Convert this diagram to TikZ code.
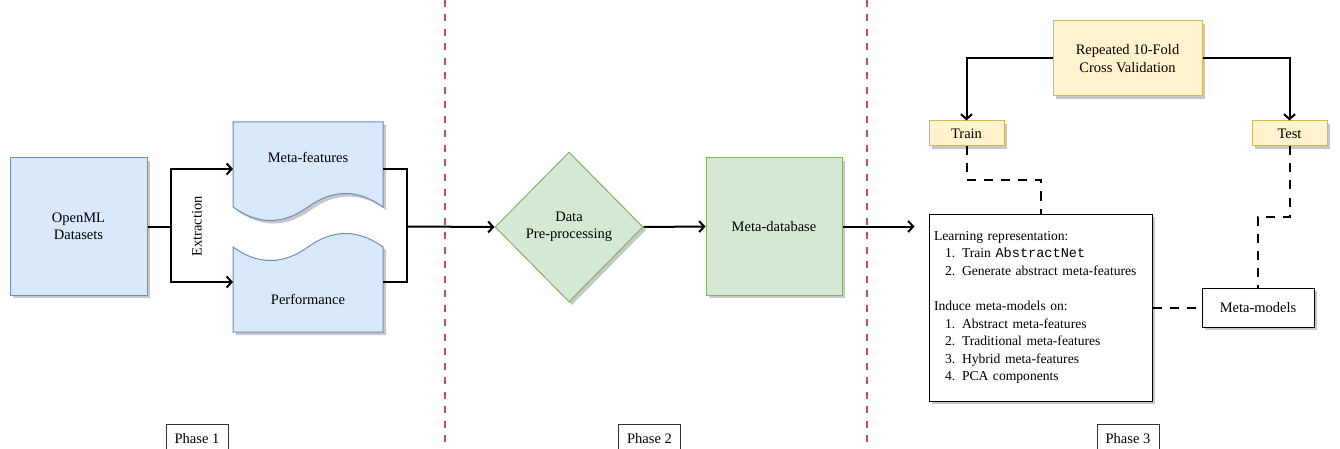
\documentclass[tikz,border=0pt]{standalone}
\usepackage{fontspec}
\setmainfont{Liberation Serif}
\setmonofont{Liberation Mono}
\usepackage{tikz}
\usetikzlibrary{arrows.meta, shapes, shadows, calc}

\definecolor{blueFill}{HTML}{DAE8FC}
\definecolor{blueLine}{HTML}{6C8EBF}
\definecolor{greenFill}{HTML}{D5E8D4}
\definecolor{greenLine}{HTML}{82B366}
\definecolor{yellowFill}{HTML}{FFF2CC}
\definecolor{yellowLine}{HTML}{D6B656}
\definecolor{sepLine}{HTML}{B85450}

\tikzset{
    shade/.style={drop shadow={shadow xshift=3pt, shadow yshift=-3pt, fill=black!22, opacity=1}},
    flow/.style={draw=black, line width=2pt},
    tip/.style={-{Straight Barb[length=5pt, width=11pt]}},
    dashflow/.style={draw=black, line width=2pt, dash pattern=on 9pt off 8pt},
    separator/.style={draw=sepLine, line width=2pt, dash pattern=on 7pt off 7.5pt}
}

\begin{document}
\begin{tikzpicture}[x=1pt, y=-1pt, font=\fontsize{14.5}{17.5}\selectfont]
            \useasboundingbox (0,0) rectangle (1340,449);

            % phases
            \draw[separator] (445,0) -- (445,449);
            \draw[separator] (867,0) -- (867,449);
            \begin{scope}[every node/.style={draw=black!80, fill=white, line width=1pt, minimum width=62, minimum height=30, inner sep=0}]
                \node (phaseA) at (197,439) {Phase 1};
                \node (phaseB) at (649.5,439) {Phase 2};
                \node (phaseC) at (1128,439) {Phase 3};
            \end{scope}

            % phase 1: documents
            \draw[shade, draw=blueLine, fill=blueFill, line width=1pt] (233,122) -- (383,122) -- (383,207)
                .. controls (358,189) and (333,189) .. (308,207)
                .. controls (283,225) and (258,225) .. (233,207) -- cycle;
            \draw[shade, draw=blueLine, fill=blueFill, line width=1pt] (233,332) -- (383,332) -- (383,247)
                .. controls (358,229) and (333,229) .. (308,247)
                .. controls (283,265) and (258,265) .. (233,247) -- cycle;
            \coordinate (metaIn) at (233,169);
            \coordinate (metaOut) at (383,169);
            \coordinate (perfIn) at (233,282);
            \coordinate (perfOut) at (383,282);

            \begin{scope}[every node/.style={line width=1pt, inner sep=0, align=center}]
                \node[shade, draw=blueLine, fill=blueFill, minimum width=137, minimum height=137] (openml) at (78.5,226.5) {OpenML\\Datasets};
                \node (meta) at (308,157) {Meta-features};
                \node (perf) at (308,299) {Performance};
                \node[rotate=90] (extract) at (197,226.5) {Extraction};
                \node[shade, shape=diamond, draw=greenLine, fill=greenFill, minimum width=148, minimum height=150] (prep) at (569,227) {Data\\Pre-processing};
                \node[shade, draw=greenLine, fill=greenFill, minimum width=136, minimum height=137] (metadb) at (774,226.5) {Meta-database};
                \node[shade, draw=yellowLine, fill=yellowFill, minimum width=149, minimum height=75] (cv) at (1127.5,58.5) {Repeated 10-Fold\\Cross Validation};
                \node[shade, draw=yellowLine, fill=yellowFill, minimum width=75, minimum height=25] (train) at (966.5,133.5) {Train};
                \node[shade, draw=yellowLine, fill=yellowFill, minimum width=75, minimum height=25] (test) at (1289.5,133.5) {Test};
                \node[shade, draw=black, fill=white, minimum width=112, minimum height=39] (models) at (1258,307.5) {Meta-models};
                \node[shade, draw=black, fill=white, text width=213, inner xsep=5, minimum height=187, align=left,
                      font=\fontsize{13.6}{17.6}\selectfont] (learn) at (1040.5,307.5) {Learning representation:\\
                    \hspace*{11pt}1. Train \texttt{AbstractNet}\\
                    \hspace*{11pt}2. Generate abstract meta-features\\[17.6pt]
                    Induce meta-models on:\\
                    \hspace*{11pt}1. Abstract meta-features\\
                    \hspace*{11pt}2. Traditional meta-features\\
                    \hspace*{11pt}3. Hybrid meta-features\\
                    \hspace*{11pt}4. PCA components};
            \end{scope}

            \coordinate (split) at (171,226.5);
            \coordinate (merge) at (407,226.5);

            % connectors
            \draw[flow] (openml.east) -- (split);
            \draw[flow, tip] (split) |- (metaIn);
            \draw[flow, tip] (split) |- (perfIn);
            \draw[flow] (metaOut) -| (merge) |- (perfOut);
            \draw[flow, tip] (merge) -- (prep.west);
            \draw[flow, tip] (prep.east) -- (metadb.west);
            \draw[flow, tip, shorten >=14pt] (metadb.east) -- (metadb.east -| learn.west);
            \draw[flow, tip] (cv.west) -| (train.north);
            \draw[flow, tip] (cv.east) -| (test.north);
            \draw[dashflow] (train.south) |- ($(train.south)!.5!(learn.north)$) -| (learn.north);
            \draw[dashflow] (test.south) |- ($(test.south)!.5!(models.north)$) -| (models.north);
            \draw[dashflow] (learn.east) -- (models.west);
\end{tikzpicture}
\end{document}
